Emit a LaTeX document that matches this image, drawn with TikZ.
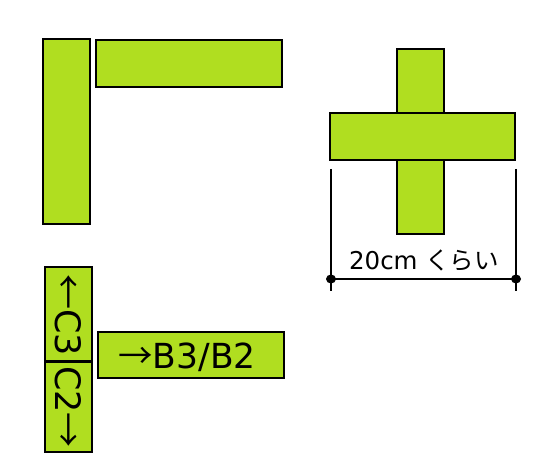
\documentclass[tikz,border=0pt]{standalone}
\usepackage{fontspec}
\setmainfont{DejaVu Sans}
\newfontfamily\jpfont{Noto Sans CJK JP}
\definecolor{barfill}{RGB}{176,222,32}
\begin{document}
\begin{tikzpicture}[x=1pt,y=-1pt,
  bar/.style={draw=black,line width=1.6pt,fill=barfill},
  dimline/.style={draw=black,line width=1.2pt},
  lbl/.style={inner sep=0pt,text=black}]
\useasboundingbox (0,0) rectangle (540,470);
% top-left L
\draw[bar] (43,39) rectangle (90,224);
\draw[bar] (96,40) rectangle (282,87);
% cross
\draw[bar] (397,49) rectangle (444,234);
\draw[bar] (330,113) rectangle (515,160);
% dimension
\coordinate (dl) at (331,279);
\coordinate (dr) at (516,279);
\coordinate (dlt) at (331,169);
\coordinate (drt) at (516,169);
\coordinate (dlb) at (331,291);
\coordinate (drb) at (516,291);
\draw[dimline] (dlt) -- (dlb);
\draw[dimline] (drt) -- (drb);
\draw[dimline] (dl) -- (dr);
\fill (dl) ellipse (5pt and 4.5pt);
\fill (dr) ellipse (5pt and 4.5pt);
\node[lbl,font=\fontsize{24.5}{24.5}\selectfont] (dimtext) at (424,260) {20cm {\jpfont くらい}};
% bottom-left
\draw[bar] (45,267) rectangle (92,452);
\draw[line width=3pt] (45,361) -- (92,361);
\node[lbl,rotate=-90,font=\fontsize{35}{35}\selectfont] (c3) at (68.5,315) {{\jpfont ←}C3};
\node[lbl,rotate=-90,font=\fontsize{35}{35}\selectfont] (c2) at (68.5,407) {C2{\jpfont →}};
\draw[bar] (98,332) rectangle (284,378);
\node[lbl,font=\fontsize{34.5}{34.5}\selectfont] (b3) at (187,357) {{\jpfont →}B3/B2};
\end{tikzpicture}
\end{document}
